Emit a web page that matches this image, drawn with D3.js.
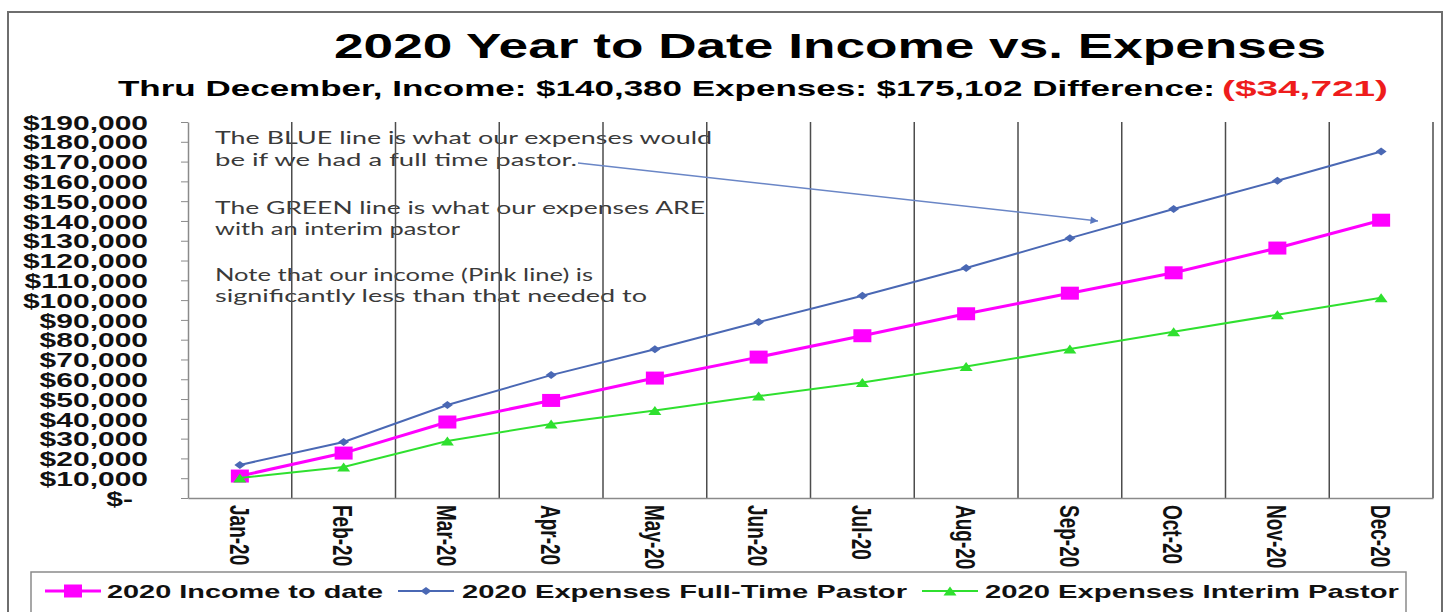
<!DOCTYPE html>
<html>
<head>
<meta charset="utf-8">
<script src="https://cdn.jsdelivr.net/npm/d3@7"></script>
<style>
  html, body { margin: 0; padding: 0; background: #fff; }
  svg { display: block; }
</style>
</head>
<body>
<div id="chart"></div>
<script>
// Chart data
const months = ['Jan-20', 'Feb-20', 'Mar-20', 'Apr-20', 'May-20', 'Jun-20',
                'Jul-20', 'Aug-20', 'Sep-20', 'Oct-20', 'Nov-20', 'Dec-20'];
const incomeToDate = [11100, 22700, 38400, 49300, 60600, 71200, 82000, 93100, 103500, 113800, 126300, 140380];
const expensesFullTime = [16700, 28300, 47000, 62100, 75200, 88900, 102200, 116200, 131300, 146000, 160300, 175102];
const expensesInterim = [10100, 15700, 28800, 37400, 44200, 51500, 58400, 66400, 75300, 84000, 92600, 101200];
const yTicks = d3.range(0, 190001, 10000);

const seriesNames = ['2020 Income to date', '2020 Expenses Full-Time Pastor', '2020 Expenses Interim Pastor'];

const W = 1449, H = 612;
const margin = { top: 122, right: 16, bottom: 114, left: 188 };
const width = W - margin.left - margin.right;   // 1245
const height = H - margin.top - margin.bottom;  // 376

const svg = d3.select('#chart').append('svg')
    .attr('width', W)
    .attr('height', H);

// Outer frame
svg.append('rect')
    .attr('x', 8).attr('y', 12)
    .attr('width', 1434).attr('height', 620)
    .attr('fill', '#fff')
    .attr('stroke', '#6e6e6e')
    .attr('stroke-width', 2);

// helper: stretch a text to a given width (the picture is widened)
function fit(sel, w) {
    return sel.attr('textLength', w).attr('lengthAdjust', 'spacingAndGlyphs');
}

// Titles
fit(svg.append('text')
    .attr('x', 334).attr('y', 58)
    .style('font-family', 'Liberation Sans, Arial, sans-serif')
    .style('font-weight', 'bold')
    .style('font-size', '35px')
    .attr('fill', '#000')
    .text('2020 Year to Date Income vs. Expenses'), 992);

fit(svg.append('text')
    .attr('x', 118).attr('y', 96)
    .style('font-family', 'Liberation Sans, Arial, sans-serif')
    .style('font-weight', 'bold')
    .style('font-size', '22px')
    .attr('fill', '#000')
    .text('Thru December, Income: $140,380 Expenses: $175,102 Difference:'), 1097);

fit(svg.append('text')
    .attr('x', 1222).attr('y', 96)
    .style('font-family', 'Liberation Sans, Arial, sans-serif')
    .style('font-weight', 'bold')
    .style('font-size', '22px')
    .attr('fill', '#ee1c1c')
    .text('($34,721)'), 166);

const g = svg.append('g')
    .attr('transform', `translate(${margin.left},${margin.top})`);

// Scales
const x = d3.scaleBand().domain(months).range([0, width]).padding(0);
const cx = d => x(d) + x.bandwidth() / 2;
const y = d3.scaleLinear().domain([0, 190000]).range([height, 0]);

// Annotation text (sits under the grid lines)
const notes = [
    ['The BLUE line is what our expenses would', 22, 497],
    ['be if we had a full time pastor.', 44, 362],
    ['The GREEN line is what our expenses ARE', 92, 490],
    ['with an interim pastor', 113, 245],
    ['Note that our income (Pink line) is', 159, 378],
    ['significantly less than that needed to', 180, 432]
];
notes.forEach(([t, yy, w]) => {
    fit(g.append('text')
        .attr('x', 27).attr('y', yy)
        .style('font-family', 'Lato, "Open Sans", sans-serif')
        .style('font-size', '17px')
        .attr('fill', '#3a3a3a')
        .text(t), w);
});

// Vertical grid lines at category boundaries
g.append('g')
    .selectAll('line')
    .data(months)
    .enter()
    .append('line')
    .attr('x1', d => x(d) + x.bandwidth())
    .attr('x2', d => x(d) + x.bandwidth())
    .attr('y1', 0)
    .attr('y2', height)
    .attr('stroke', '#4d4d4d')
    .attr('stroke-width', 1.5);

// Y axis
const yAxis = g.append('g')
    .call(d3.axisLeft(y)
        .tickValues(yTicks)
        .tickSize(7)
        .tickSizeOuter(0)
        .tickFormat(d => d === 0 ? '$-' : d3.format('$,')(d)));
yAxis.select('.domain').attr('stroke', '#8a8a8a').attr('stroke-width', 1.5);
yAxis.selectAll('.tick line').attr('stroke', '#8a8a8a');
yAxis.selectAll('.tick text')
    .attr('x', 0)
    .attr('dy', '0.36em')
    .attr('transform', d => `translate(${d === 0 ? -55 : -40},0) scale(1.5,1)`)
    .style('font-family', 'Liberation Sans, Arial, sans-serif')
    .style('font-weight', 'bold')
    .style('font-size', '20px')
    .attr('fill', '#111');

// X axis
const xAxis = g.append('g')
    .attr('transform', `translate(0,${height})`)
    .call(d3.axisBottom(x).tickSize(0).tickSizeOuter(0));
xAxis.select('.domain').attr('stroke', '#8a8a8a').attr('stroke-width', 1.5);
xAxis.selectAll('.tick text')
    .attr('x', 0).attr('y', 0)
    .attr('dy', '0.36em')
    .attr('transform', 'translate(0,7) scale(1.5,1) rotate(90)')
    .style('text-anchor', 'start')
    .style('font-family', 'Liberation Sans, Arial, sans-serif')
    .style('font-weight', 'bold')
    .style('font-size', '19px')
    .attr('fill', '#111');

// Arrow from the note to the blue line
svg.append('defs').append('marker')
    .attr('id', 'arrow')
    .attr('viewBox', '0 0 10 10')
    .attr('refX', 10).attr('refY', 5)
    .attr('markerWidth', 7).attr('markerHeight', 5)
    .attr('markerUnits', 'strokeWidth')
    .attr('orient', 'auto')
    .append('path')
    .attr('d', 'M0,0 L10,5 L0,10 Z')
    .attr('fill', '#5a78c0');
svg.append('line')
    .attr('x1', 578).attr('y1', 163)
    .attr('x2', 1098).attr('y2', 221)
    .attr('stroke', '#6a86c6')
    .attr('stroke-width', 1.5)
    .attr('marker-end', 'url(#arrow)');

// Series
const series = [
    { name: seriesNames[0], values: incomeToDate, color: '#ff00ff', width: 3, marker: 'square' },
    { name: seriesNames[1], values: expensesFullTime, color: '#4a68b4', width: 2, marker: 'diamond' },
    { name: seriesNames[2], values: expensesInterim, color: '#2fe02f', width: 2, marker: 'triangle' }
];

function drawMarker(sel, type, color) {
    if (type === 'square') {
        sel.append('rect')
            .attr('x', -9).attr('y', -6.5)
            .attr('width', 18).attr('height', 13)
            .attr('fill', color);
    } else if (type === 'diamond') {
        sel.append('path')
            .attr('d', 'M-5.5,0 L0,-4 L5.5,0 L0,4 Z')
            .attr('fill', color);
    } else {
        sel.append('path')
            .attr('d', 'M-6.5,4.5 L0,-4.5 L6.5,4.5 Z')
            .attr('fill', color);
    }
}

const line = d3.line()
    .x((d, i) => cx(months[i]))
    .y(d => y(d));

series.forEach(s => {
    g.append('path')
        .datum(s.values)
        .attr('fill', 'none')
        .attr('stroke', s.color)
        .attr('stroke-width', s.width)
        .attr('d', line);
    g.append('g')
        .selectAll('g')
        .data(s.values)
        .enter()
        .append('g')
        .attr('transform', (d, i) => `translate(${cx(months[i])},${y(d)})`)
        .each(function() { drawMarker(d3.select(this), s.marker, s.color); });
});

// Legend
const legend = svg.append('g');
legend.append('rect')
    .attr('x', 31).attr('y', 572)
    .attr('width', 1375).attr('height', 50)
    .attr('fill', '#fff')
    .attr('stroke', '#8a8a8a')
    .attr('stroke-width', 1.5);

const legendPos = [
    { x0: 45, tx: 107, tw: 276 },
    { x0: 398, tx: 462, tw: 445 },
    { x0: 922, tx: 985, tw: 414 }
];
series.forEach((s, i) => {
    const p = legendPos[i];
    const item = legend.append('g').attr('transform', `translate(${p.x0},591)`);
    item.append('line')
        .attr('x1', 0).attr('x2', 56)
        .attr('stroke', s.color)
        .attr('stroke-width', s.width);
    drawMarker(item.append('g').attr('transform', 'translate(28,0)'), s.marker, s.color);
    fit(legend.append('text')
        .attr('x', p.tx).attr('y', 598)
        .style('font-family', 'Liberation Sans, Arial, sans-serif')
        .style('font-weight', 'bold')
        .style('font-size', '19px')
        .attr('fill', '#111')
        .text(s.name), p.tw);
});
</script>
</body>
</html>
